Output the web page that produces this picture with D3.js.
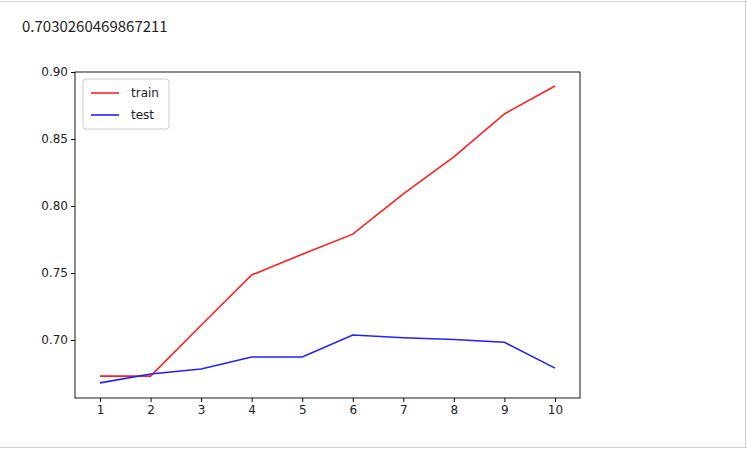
<!DOCTYPE html>
<html><head><meta charset="utf-8">
<script src="https://cdn.jsdelivr.net/npm/d3@7"></script>
<style>
body{margin:0;background:#fff;}
svg text{font-family:"DejaVu Sans",sans-serif;}
</style></head>
<body><svg id="c" width="747" height="451"></svg>
<script>
const depths = [1,2,3,4,5,6,7,8,9,10];
const trainScore = [0.673,0.673,0.711,0.7485,0.764,0.779,0.809,0.8366,0.8687,0.8896];
const testScore = [0.668,0.6746,0.6784,0.6873,0.6873,0.7037,0.7017,0.7004,0.6983,0.679];
const yTicks = [0.70,0.75,0.80,0.85,0.90];
const printed = "0.7030260469867211";

const svg = d3.select("#c");
// notebook cell borders
svg.append("line").attr("x1",0).attr("x2",747).attr("y1",1.5).attr("y2",1.5).attr("stroke","#cfcfcf");
svg.append("line").attr("x1",745.5).attr("x2",745.5).attr("y1",0).attr("y2",447).attr("stroke","#cfcfcf");
svg.append("line").attr("x1",0).attr("x2",747).attr("y1",447.5).attr("y2",447.5).attr("stroke","#cfcfcf");
svg.append("text").attr("x",22).attr("y",32).text(printed)
  .style("font-family","'Noto Sans CJK SC','DejaVu Serif',serif").style("font-size","15px").attr("fill","#222");

const L=75,R=580,T=72,B=398;
const x = d3.scaleLinear().domain([0.505,10.495]).range([L,R]);
const y = d3.scaleLinear().domain([0.6567,0.90]).range([B,T]);

const g = svg.append("g");
g.append("g").attr("transform",`translate(0,${B})`)
  .call(d3.axisBottom(x).tickValues(depths).tickSize(4).tickSizeOuter(0))
  .call(a=>a.select(".domain").remove())
  .selectAll("text").style("font-size","12px").attr("fill","#222");
g.append("g").attr("transform",`translate(${L},0)`)
  .call(d3.axisLeft(y).tickValues(yTicks).tickFormat(d3.format(".2f")).tickSize(4).tickSizeOuter(0))
  .call(a=>a.select(".domain").remove())
  .selectAll("text").style("font-size","12px").attr("fill","#222");
g.append("rect").attr("x",L).attr("y",T).attr("width",R-L).attr("height",B-T)
  .attr("fill","none").attr("stroke","#000").attr("stroke-width",0.9);

const line = d3.line().x((d,i)=>x(depths[i])).y(d=>y(d));
g.append("path").datum(trainScore).attr("d",line).attr("fill","none").attr("stroke","#ff2020").attr("stroke-width",1.6);
g.append("path").datum(testScore).attr("d",line).attr("fill","none").attr("stroke","#2020ff").attr("stroke-width",1.6);

const lg = g.append("g").attr("transform","translate(83,79)");
lg.append("rect").attr("width",86).attr("height",50).attr("rx",3).attr("fill","#fff").attr("stroke","#ccc");
[["train","#ff2020"],["test","#2020ff"]].forEach((s,i)=>{
  lg.append("line").attr("x1",8).attr("x2",36).attr("y1",14+i*22).attr("y2",14+i*22).attr("stroke",s[1]).attr("stroke-width",1.6);
  lg.append("text").attr("x",48).attr("y",18+i*22).text(s[0]).style("font-size","12px").attr("fill","#222");
});
</script></body></html>
